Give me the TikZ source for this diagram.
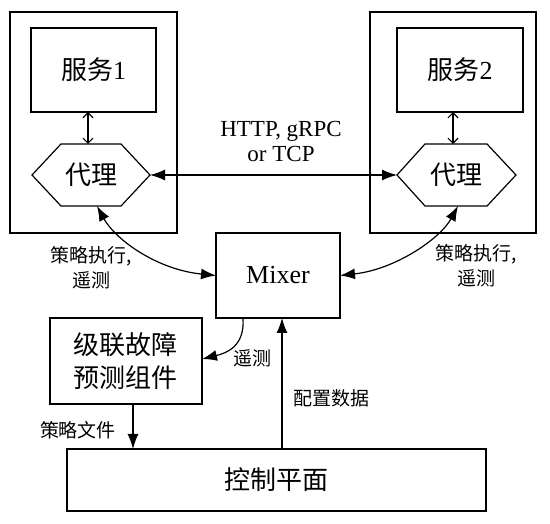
\documentclass[tikz,border=0pt]{standalone}
\usepackage{fontspec}
\setmainfont{Liberation Serif}
\newfontfamily\cjk{Noto Sans CJK SC}
\usetikzlibrary{arrows.meta}
\tikzset{
  box/.style={draw, line width=1.2pt, inner sep=0pt, outer sep=0pt},
  core/.style={inner sep=0pt, outer sep=0pt, minimum height=62pt},
  edge/.style={line width=1.2pt},
  arr/.style={line width=1.2pt, -{Latex[length=15pt,width=11pt]}},
  darr/.style={line width=1.2pt, {Latex[length=15pt,width=11pt]}-{Latex[length=15pt,width=11pt]}},
  oarr/.style={line width=1.2pt, {Straight Barb[length=5pt,width=10pt]}-{Straight Barb[length=5pt,width=10pt]}},
  big/.style={font=\cjk\fontsize{26}{33}\selectfont, align=center},
  lat/.style={font=\fontsize{26}{30}\selectfont},
  http/.style={font=\fontsize{23}{25}\selectfont, align=center},
  small/.style={font=\cjk\fontsize{19}{25}\selectfont, align=center, inner sep=0pt},
}
\begin{document}
\begin{tikzpicture}[x=1pt,y=-1pt]
\useasboundingbox (0,0) rectangle (550,524);
% outer boxes
\node[box, minimum width=167pt, minimum height=221pt] (o1) at (93.5,122.5) {};
\node[box, minimum width=166pt, minimum height=221pt] (o2) at (453,122.5) {};
% services
\node[box, big, minimum width=125pt, minimum height=84pt] (s1) at (93.5,70) {服务\textrm{1}};
\node[box, big, minimum width=126pt, minimum height=84pt] (s2) at (460,70) {服务\textrm{2}};
% proxies (hexagons)
\node[core, big, minimum width=60pt] (h1) at (91,175) {代理};
\node[core, big, minimum width=62pt] (h2) at (456,175) {代理};
\coordinate (h1l) at ([xshift=-29pt]h1.west);
\coordinate (h1r) at ([xshift=29pt]h1.east);
\coordinate (h2l) at ([xshift=-28pt]h2.west);
\coordinate (h2r) at ([xshift=29pt]h2.east);
\draw[edge] (h1.north west) -- (h1.north east) -- (h1r) -- (h1.south east) -- (h1.south west) -- (h1l) -- cycle;
\draw[edge] (h2.north west) -- (h2.north east) -- (h2r) -- (h2.south east) -- (h2.south west) -- (h2l) -- cycle;
% mixer, cascade, control
\node[box, lat, minimum width=124pt, minimum height=85pt] (mixer) at (278,275.5) {Mixer};
\node[box, big, minimum width=152pt, minimum height=86pt] (casc) at (126,361) {级联故障\\预测组件};
\node[box, big, minimum width=419pt, minimum height=62pt] (ctrl) at (276.5,480) {控制平面};
% service <-> proxy
\draw[oarr] ([xshift=-5.5pt]s1.south) -- ([xshift=-5.5pt]s1.south |- h1.north);
\draw[oarr] ([xshift=-7pt]s2.south) -- ([xshift=-7pt]s2.south |- h2.north);
% proxy <-> proxy
\draw[darr] (h1r) -- (h2l);
\node[http] (proto) at (281,141) {HTTP, gRPC\\or TCP};
% proxies <-> mixer
\draw[darr] ([xshift=6pt]h1.south) .. controls +(18,33) and +(-60,-6) .. (mixer.west);
\draw[darr] ([xshift=2pt]h2.south) .. controls +(-18,33) and +(55,-6) .. (mixer.east);
\node[small] (l1) at (91.5,267.5) {策略执行,\\遥测};
\node[small] (l2) at (476.5,266) {策略执行,\\遥测};
% mixer -> cascade
\draw[arr] ([xshift=-35pt]mixer.south) .. controls +(2,28) and +(25,-6) .. ([yshift=2pt]casc.east);
\node[small] (l3) at (252,358) {遥测};
% cascade -> control
\draw[arr] ([xshift=7pt]casc.south) -- ([xshift=7pt]casc.south |- ctrl.north);
\node[small] (l4) at (78,430) {策略文件};
% control -> mixer
\draw[arr] ([xshift=5.5pt]ctrl.north) -- ([xshift=5.5pt]ctrl.north |- mixer.south);
\node[small] (l5) at (331,398) {配置数据};
\end{tikzpicture}
\end{document}
